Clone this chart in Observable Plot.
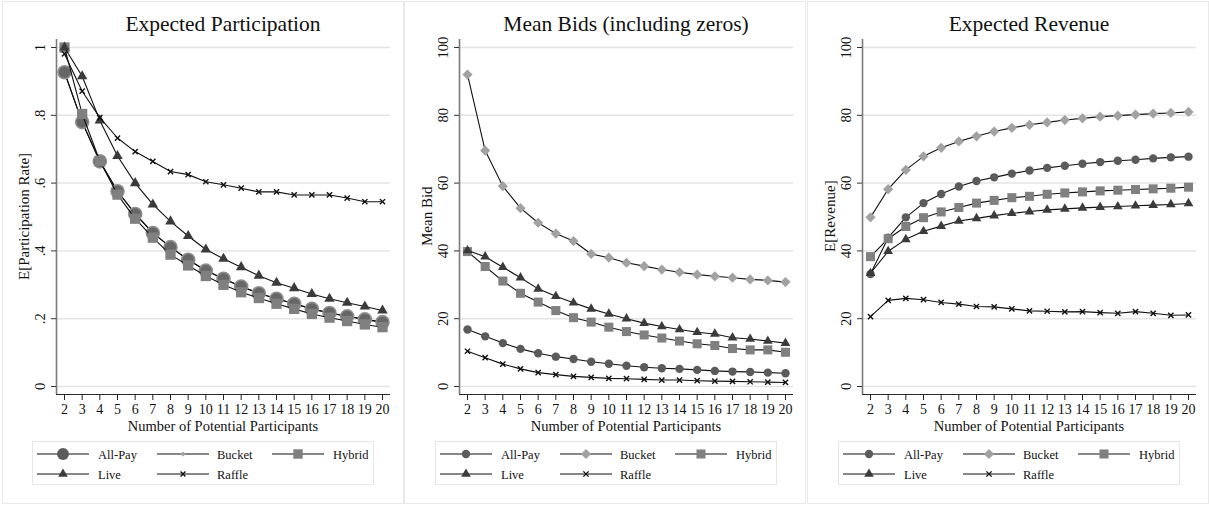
<!DOCTYPE html>
<html><head><meta charset="utf-8">
<script src="https://cdn.jsdelivr.net/npm/d3@7"></script>
<script src="https://cdn.jsdelivr.net/npm/@observablehq/plot@0.6"></script>
<style>
body{margin:0;background:#fff;width:1209px;height:506px;position:relative;overflow:hidden;font-family:"Liberation Serif",serif;color:#111;}
.panel{position:absolute;top:1px;height:501px;width:400px;border:1px solid #e9e9e9;box-sizing:content-box;}
.title{position:absolute;top:14px;width:334px;font-size:21.5px;line-height:21px;text-align:center;white-space:nowrap;}
.xtitle{position:absolute;top:419px;width:334px;font-size:14.5px;line-height:14px;text-align:center;white-space:nowrap;}
.ytitle{position:absolute;font-size:15px;line-height:15px;white-space:nowrap;transform-origin:0 0;transform:rotate(-90deg);}
.plotbox{position:absolute;top:0;}
.legend{position:absolute;top:441px;}
</style></head>
<body>
<div id="root"></div>
<script>
// ---------- data ----------
const participants = [2,3,4,5,6,7,8,9,10,11,12,13,14,15,16,17,18,19,20];
const seriesNames = ["All-Pay","Bucket","Hybrid","Live","Raffle"];

// Expected Participation
const partAllPay = [0.927,0.780,0.664,0.576,0.509,0.453,0.411,0.374,0.342,0.318,0.295,0.275,0.259,0.244,0.229,0.217,0.207,0.198,0.190];
const partBucket = [0.927,0.780,0.664,0.576,0.509,0.453,0.411,0.374,0.342,0.318,0.295,0.275,0.259,0.244,0.229,0.217,0.207,0.198,0.190];
const partHybrid = [1.000,0.804,0.665,0.566,0.495,0.439,0.389,0.357,0.326,0.300,0.278,0.261,0.244,0.229,0.214,0.203,0.193,0.183,0.175];
const partLive   = [1.000,0.915,0.785,0.680,0.600,0.537,0.487,0.444,0.404,0.377,0.352,0.327,0.306,0.290,0.273,0.259,0.247,0.236,0.224];
const partRaffle = [0.981,0.871,0.793,0.733,0.693,0.664,0.634,0.625,0.604,0.595,0.585,0.574,0.574,0.565,0.565,0.565,0.556,0.545,0.545];

// Mean Bids (including zeros)
const bidAllPay = [16.8,14.8,12.8,11.1,9.8,8.8,8.1,7.3,6.7,6.1,5.7,5.4,5.2,4.9,4.6,4.4,4.3,4.1,3.9];
const bidBucket = [92.0,69.6,59.1,52.6,48.3,45.1,42.9,39.1,38.0,36.5,35.5,34.5,33.7,33.0,32.5,32.1,31.6,31.3,30.8];
const bidHybrid = [39.8,35.4,31.1,27.5,24.9,22.4,20.3,19.0,17.5,16.2,15.2,14.3,13.4,12.6,12.1,11.2,10.8,10.8,10.1];
const bidLive   = [40.1,38.3,35.2,32.1,28.8,26.6,24.7,22.9,21.4,20.0,18.7,17.7,16.8,16.0,15.5,14.4,14.0,13.4,12.8];
const bidRaffle = [10.4,8.5,6.6,5.2,4.1,3.5,3.0,2.7,2.4,2.3,2.1,1.9,1.9,1.7,1.6,1.5,1.4,1.3,1.2];

// Expected Revenue
const revAllPay = [33.2,43.9,49.9,54.1,56.8,59.0,60.6,61.7,62.8,63.7,64.5,65.1,65.7,66.2,66.6,66.9,67.3,67.6,67.8];
const revBucket = [49.9,58.2,63.9,67.9,70.4,72.3,73.8,75.2,76.3,77.2,77.9,78.6,79.1,79.6,79.9,80.2,80.5,80.7,81.0];
const revHybrid = [38.3,43.6,47.2,49.8,51.5,52.8,54.1,54.9,55.7,56.1,56.7,57.1,57.4,57.7,57.9,58.1,58.3,58.5,58.8];
const revLive   = [33.4,39.9,43.4,45.8,47.3,48.8,49.6,50.4,51.1,51.6,52.1,52.4,52.7,52.9,53.1,53.3,53.5,53.7,54.0];
const revRaffle = [20.6,25.4,26.0,25.6,24.8,24.3,23.6,23.5,22.9,22.3,22.2,22.0,22.1,21.8,21.6,22.1,21.6,21.0,21.1];

const titles = ["Expected Participation","Mean Bids (including zeros)","Expected Revenue"];
const yTitles = ["E[Participation Rate]","Mean Bid","E[Revenue]"];
const yTicksPart = [0,0.2,0.4,0.6,0.8,1];
const yTicksHundred = [0,20,40,60,80,100];
const xTitle = "Number of Potential Participants";

// ---------- styles ----------
const colors = {"All-Pay":"#5b5b5b","Bucket":"#a2a2a2","Hybrid":"#808080","Live":"#3b3b3b","Raffle":"#111"};
const symbols = {"All-Pay":"circle","Bucket":"diamond2","Hybrid":"square","Live":"triangle","Raffle":"times"};
const d3symbols = {"circle":d3.symbolCircle,"diamond2":d3.symbolDiamond2,"square":d3.symbolSquare,"triangle":d3.symbolTriangle,"times":d3.symbolTimes};
const sizesBig = {"All-Pay":6.5,"Bucket":2.5,"Hybrid":5.8,"Live":3.9,"Raffle":2.5};
const sizesStd = {"All-Pay":4.2,"Bucket":4.6,"Hybrid":5.1,"Live":3.6,"Raffle":2.5};

const panels = [
  {series:{"All-Pay":partAllPay,"Bucket":partBucket,"Hybrid":partHybrid,"Live":partLive,"Raffle":partRaffle},
   order:["Bucket","All-Pay","Hybrid","Live","Raffle"], ticks:yTicksPart, top:1, sizes:sizesBig,
   fmt:d => d===0?"0":d===1?"1":String(d).replace("0.","."), big:true},
  {series:{"All-Pay":bidAllPay,"Bucket":bidBucket,"Hybrid":bidHybrid,"Live":bidLive,"Raffle":bidRaffle},
   order:seriesNames, ticks:yTicksHundred, top:100, sizes:sizesStd, fmt:d=>String(d), big:false},
  {series:{"All-Pay":revAllPay,"Bucket":revBucket,"Hybrid":revHybrid,"Live":revLive,"Raffle":revRaffle},
   order:seriesNames, ticks:yTicksHundred, top:100, sizes:sizesStd, fmt:d=>String(d), big:false}
];

const root = document.getElementById("root");
const PW = 403;

panels.forEach((p, i) => {
  const off = PW * i;
  const box = document.createElement("div");
  box.className = "panel";
  box.style.left = (2 + off - (i>0?1:0)) + "px";
  root.appendChild(box);

  const t = document.createElement("div");
  t.className = "title"; t.style.left = (56 + off) + "px"; t.textContent = titles[i];
  root.appendChild(t);

  const xt = document.createElement("div");
  xt.className = "xtitle"; xt.style.left = (56 + off) + "px"; xt.textContent = xTitle;
  root.appendChild(xt);

  // y domain padded so that axis line extends beyond the tick range
  const pad = p.top * 0.0236;
  const yDomain = [-pad, p.top + pad];
  const xDomain = [1.547, 20.453];

  const marks = [
    Plot.gridY(p.ticks, {stroke:"#e4e4e4", strokeOpacity:1, strokeWidth:1.5}),
    Plot.ruleX([xDomain[0]], {stroke:"#7a7a7a", strokeWidth:1.6}),
    Plot.ruleY([yDomain[0]], {stroke:"#2a2a2a", strokeWidth:1.2}),
    Plot.axisY(p.ticks, {tickSize:5, tickPadding:7, tickRotate:-90, tickFormat:p.fmt, fontSize:14.5, label:null, stroke:"#333"}),
    Plot.axisX(participants, {tickSize:6, tickPadding:4, fontSize:14, label:null, stroke:"#222"})
  ];
  p.order.forEach(name => {
    const rows = participants.map((n, k) => ({n, v: p.series[name][k]}));
    marks.push(Plot.line(rows, {x:"n", y:"v", stroke:"#111", strokeWidth:1.1}));
    const isTimes = symbols[name] === "times";
    const opts = {x:"n", y:"v", symbol:()=>symbols[name], r:p.sizes[name]};
    if (isTimes) { opts.stroke = "#111"; opts.strokeWidth = 1.4; }
    else {
      opts.fill = colors[name];
      if (p.big && name === "All-Pay") { opts.fill = "#666"; opts.stroke = "#8e8e8e"; opts.strokeWidth = 1.6; }
    }
    marks.push(Plot.dot(rows, opts));
  });

  const chart = Plot.plot({
    width: PW, height: 440,
    marginLeft: 56, marginRight: 13, marginTop: 39, marginBottom: 46,
    style: {fontFamily: '"Liberation Serif", serif', fontSize: "14px", color: "#111", background: "transparent"},
    x: {domain: xDomain},
    y: {domain: yDomain},
    marks
  });
  const holder = document.createElement("div");
  holder.className = "plotbox"; holder.style.left = off + "px";
  holder.appendChild(chart);
  root.appendChild(holder);

  // y title (rotated)
  const yt = document.createElement("div");
  yt.className = "ytitle"; yt.textContent = yTitles[i];
  root.appendChild(yt);
  const w = yt.getBoundingClientRect().height; // after rotation height = text width
  yt.style.left = (17 + off) + "px";
  yt.style.top = (216 + w/2) + "px";

  // legend
  const LW = 342, LH = 44;
  const lg = d3.create("svg").attr("width", LW).attr("height", LH)
    .style("font-family", '"Liberation Serif", serif').style("font-size", "12.5px");
  lg.append("rect").attr("x",0.5).attr("y",0.5).attr("width",LW-1).attr("height",LH-1)
    .attr("fill","#fff").attr("stroke","#e6e6e6");
  const colX = [5, 125, 240], labX = [66, 185, 301], rowY = [13, 33];
  seriesNames.forEach((name, k) => {
    const c = k % 3, r = Math.floor(k / 3);
    const x0 = colX[c], x1 = x0 + 52, y = rowY[r];
    lg.append("line").attr("x1",x0).attr("x2",x1).attr("y1",y).attr("y2",y).attr("stroke","#111").attr("stroke-width",1.2);
    const sym = symbols[name], rr = p.sizes[name] * (p.big ? 0.92 : 1);
    const path = lg.append("path").attr("transform",`translate(${(x0+x1)/2},${y})`)
      .attr("d", d3.symbol(d3symbols[sym], Math.PI*rr*rr)());
    if (sym === "times") path.attr("fill","none").attr("stroke","#111").attr("stroke-width",1.4);
    else path.attr("fill", colors[name]);
    lg.append("text").attr("x", labX[c]).attr("y", y + 4.5).attr("fill","#111").text(name);
  });
  const lgd = document.createElement("div");
  lgd.className = "legend"; lgd.style.left = (32 + off) + "px";
  lgd.appendChild(lg.node());
  root.appendChild(lgd);
});
</script>
</body></html>
